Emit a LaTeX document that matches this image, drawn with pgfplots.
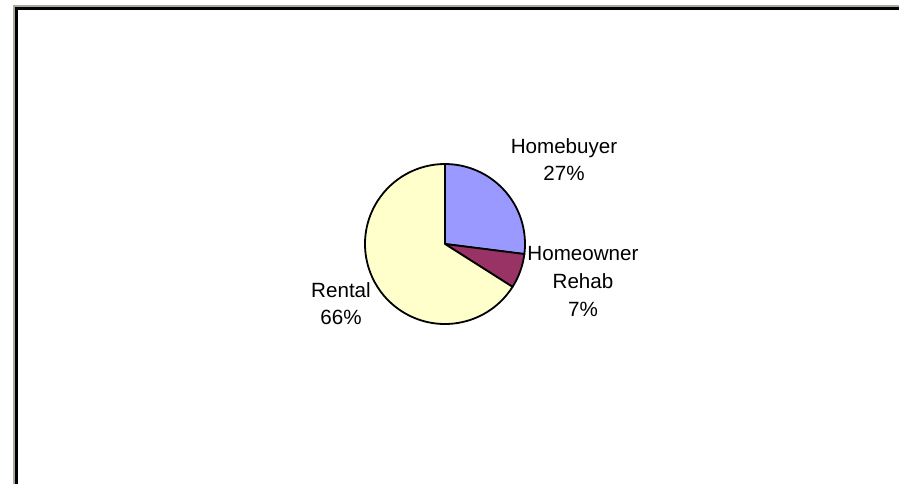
\documentclass[border=0pt]{standalone}
\usepackage{pgfplots}
\pgfplotsset{compat=1.18}
\usepackage{pgfplotstable}
\usepackage{fontspec}
\setmainfont{Liberation Sans}
\definecolor{hbuy}{HTML}{9999FF}
\definecolor{rehab}{HTML}{993366}
\definecolor{rental}{HTML}{FFFFCC}
\definecolor{frameg}{HTML}{ACA899}
\pgfplotstableread{
label value
Homebuyer 27
Rehab 7
Rental 66
}\piedata
\begin{document}
\begin{tikzpicture}
\pgfplotstablegetelem{0}{value}\of\piedata \let\va\pgfplotsretval
\pgfplotstablegetelem{1}{value}\of\piedata \let\vb\pgfplotsretval
\pgfplotstablegetelem{2}{value}\of\piedata \let\vc\pgfplotsretval
\pgfmathsetmacro\aA{90}
\pgfmathsetmacro\aB{\aA-3.6*\va}
\pgfmathsetmacro\aC{\aB-3.6*\vb}
\pgfmathsetmacro\aD{\aC-3.6*\vc}
\begin{axis}[
  scale only axis, width=449.5pt, height=242pt,
  xmin=0, xmax=899, ymin=0, ymax=484,
  hide axis, clip=false,
]
\coordinate (ll) at (axis cs:0,0);
\coordinate (ur) at (axis cs:899,484);
% frame
\draw[frameg, line width=1pt] (axis cs:13.5,0) -- (axis cs:13.5,479);
\draw[frameg, line width=1pt] (axis cs:12.5,478) -- (axis cs:899,478);
\draw[black, line width=1.5pt] (axis cs:16.2,0) -- (axis cs:16.2,476.5);
\draw[black, line width=1.5pt] (axis cs:14.7,475.5) -- (axis cs:899,475.5);
% pie
\filldraw[fill=hbuy, draw=black, line width=0.9pt, line join=round]
  (axis cs:445,240) -- ([shift={(\aA:40pt)}]axis cs:445,240) arc[start angle=\aA, end angle=\aB, radius=40pt] -- cycle;
\filldraw[fill=rehab, draw=black, line width=0.9pt, line join=round]
  (axis cs:445,240) -- ([shift={(\aB:40pt)}]axis cs:445,240) arc[start angle=\aB, end angle=\aC, radius=40pt] -- cycle;
\filldraw[fill=rental, draw=black, line width=0.9pt, line join=round]
  (axis cs:445,240) -- ([shift={(\aC:40pt)}]axis cs:445,240) arc[start angle=\aC, end angle=\aD, radius=40pt] -- cycle;
% labels
\node[align=center, font=\fontsize{10.3}{13.6}\selectfont, inner sep=0pt] at (axis cs:564,324.5) {Homebuyer\\27\%};
\node[align=center, font=\fontsize{10.3}{13.8}\selectfont, inner sep=0pt] at (axis cs:583,202.5) {Homeowner\\Rehab\\7\%};
\node[align=center, font=\fontsize{10.3}{13.6}\selectfont, inner sep=0pt] at (axis cs:341,180.5) {Rental\\66\%};
\end{axis}
\pgfresetboundingbox
\path[use as bounding box] (ll) rectangle (ur);
\end{tikzpicture}
\end{document}
